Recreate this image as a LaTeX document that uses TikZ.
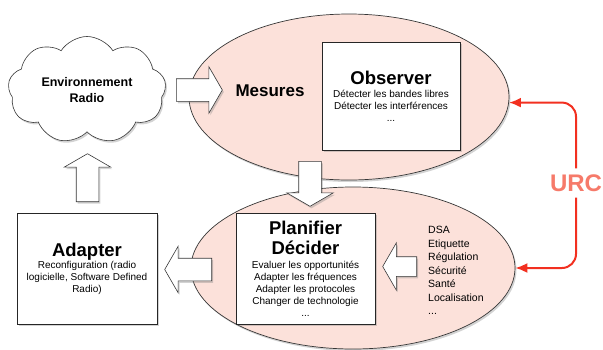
\documentclass[tikz,border=0pt]{standalone}
\usepackage{fontspec}
\setmainfont{Liberation Sans}
\usepackage{tikz}
\usetikzlibrary{shapes.geometric,shapes.symbols,shapes.arrows,shadows,arrows.meta}

\definecolor{zonepink}{RGB}{252,225,218}
\definecolor{edgegray}{RGB}{55,55,55}
\definecolor{urcred}{RGB}{242,48,32}
\definecolor{urctext}{RGB}{246,122,106}

\newcommand{\bigtitle}{\fontsize{18.5}{20}\selectfont\bfseries}

\tikzset{
  softshadow/.style={drop shadow={opacity=0.35,shadow xshift=1.5pt,shadow yshift=-2pt}},
  zone/.style={ellipse, draw=edgegray, line width=0.7pt, fill=zonepink, softshadow},
  panel/.style={rectangle, draw=black!85, line width=0.7pt, fill=white, softshadow,
    align=center, font=\fontsize{10}{12}\selectfont},
  blockarrow/.style={single arrow, draw=edgegray, line width=0.6pt, fill=white, softshadow,
    inner xsep=0pt, inner ysep=11pt, single arrow head extend=12pt,
    single arrow tip angle=120, anchor=tail},
  urcarrow/.style={draw=urcred, line width=2pt, rounded corners=14pt,
    -{Latex[length=12pt,width=10pt]}}
}

\begin{document}
\begin{tikzpicture}[x=1pt,y=-1pt]
    \useasboundingbox (0,0) rectangle (603,349);
    % Zones, boxes and arrows:
    \node[zone, minimum width=320pt, minimum height=166pt] (mesZone) at (349,97) {};
    \node[zone, minimum width=324pt, minimum height=162pt] (decZone) at (353,268) {};
    \node[cloud, cloud puffs=9, cloud puff arc=115, aspect=1.6, draw=edgegray, line width=0.6pt, fill=white, softshadow,
      minimum width=158pt, minimum height=98pt, align=center,
      font=\fontsize{12.5}{16}\selectfont\bfseries] (env) at (87,90) {Environnement\\Radio};
    \node[font=\fontsize{17}{20}\selectfont\bfseries] (mes) at (270,91) {Mesures};
    \node[panel, minimum width=138pt, minimum height=108pt] (obs) at (391,96)
      {{\bigtitle Observer}\\[1pt] Détecter les bandes libres\\ Détecter les interférences\\ ...};
    \node[panel, minimum width=139pt, minimum height=111pt] (plan) at (305.5,268.5)
      {{\bigtitle Planifier}\\[5pt]{\bigtitle Décider}\\[2pt] Evaluer les opportunités\\ Adapter les fréquences\\
       Adapter les protocoles\\ Changer de technologie\\ ...};
    \node[panel, minimum width=140pt, minimum height=111pt] (adapt) at (87,268.5)
      {{\bigtitle Adapter}\\ Reconfiguration (radio\\ logicielle, Software Defined\\ Radio)};
    \node[anchor=north west, align=left, inner sep=0pt, font=\fontsize{10.5}{13.5}\selectfont] (crit)
      at (428,226) {DSA\\ Etiquette\\ Régulation\\ Sécurité\\ Santé\\ Localisation\\ ...};
    \node[text=urctext, inner xsep=2pt, inner ysep=6pt, font=\fontsize{24}{28}\selectfont\bfseries] (urc)
      at (576,183) {URC};

    \node[blockarrow, minimum height=46pt] (toMes) at (176,90) {};
    \node[blockarrow, minimum height=45pt, rotate=-90] (toPlan) at (310,161) {};
    \node[blockarrow, minimum height=48pt, rotate=90] (toEnv) at (87.5,202) {};
    \node[blockarrow, minimum height=47pt, rotate=180] (toAdapt) at (212,269.5) {};
    \node[blockarrow, minimum height=34pt, rotate=180, inner ysep=9.5pt,
      single arrow head extend=14pt] (toPlanRules) at (417,266.5) {};

    \draw[urcarrow] (urc.north) |- (mesZone.-2.5);
    \draw[urcarrow] (urc.south) |- (decZone.east);
\end{tikzpicture}
\end{document}
